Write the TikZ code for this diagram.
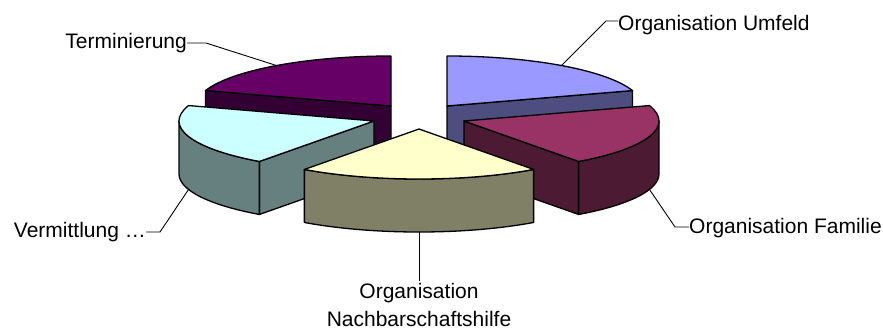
\documentclass[tikz,border=0pt]{standalone}
\usepackage{fontspec}
\setmainfont{Liberation Sans}
\usepackage{tikz}
\newcommand{\rx}{195}
\newcommand{\ry}{50}
\newcommand{\hh}{53}
\definecolor{termtop}{HTML}{660066}
\definecolor{termside}{HTML}{330033}
\definecolor{umftop}{HTML}{9999FF}
\definecolor{umfside}{HTML}{4D4D80}
\definecolor{vmtop}{HTML}{CCFFFF}
\definecolor{vmside}{HTML}{668080}
\definecolor{famtop}{HTML}{993366}
\definecolor{famside}{HTML}{4D1A33}
\definecolor{nbtop}{HTML}{FFFFCC}
\definecolor{nbside}{HTML}{808066}
\begin{document}
\begin{tikzpicture}[x=1pt,y=1pt,
    face/.style={draw=black,line width=1.3pt,line join=round},
    leader/.style={draw=black,line width=0.9pt},
    lbl/.style={inner sep=0pt,font=\fontsize{21}{28}\selectfont}]
    \useasboundingbox (0,0) rectangle (883,-333);
    \coordinate (apexT) at (391,-106);
    \coordinate (apexU) at (447,-106);
    \coordinate (apexV) at (374,-121);
    \coordinate (apexF) at (464,-121);
    \coordinate (apexN) at (419,-129);
    \begin{scope}[shift={(apexT)}]
    	\filldraw[face,fill=termside] (0,0) -- ({\rx*cos(162)},{\ry*sin(162)}) -- ++(0,-\hh) -- (0,-\hh) -- cycle;
    	\filldraw[face,fill=termtop] (0,0) -- (0,\ry) arc[start angle=90,end angle=162,x radius=\rx,y radius=\ry] -- cycle;
    \end{scope}
    \begin{scope}[shift={(apexU)}]
    	\filldraw[face,fill=umfside] (0,0) -- ({\rx*cos(18)},{\ry*sin(18)}) -- ++(0,-\hh) -- (0,-\hh) -- cycle;
    	\filldraw[face,fill=umftop] (0,0) -- ({\rx*cos(18)},{\ry*sin(18)}) arc[start angle=18,end angle=90,x radius=\rx,y radius=\ry] -- cycle;
    \end{scope}
    \begin{scope}[shift={(apexV)}]
    	\filldraw[face,fill=vmside] (0,0) -- ({\rx*cos(234)},{\ry*sin(234)}) -- ++(0,-\hh) -- (0,-\hh) -- cycle;
    	\filldraw[face,fill=vmside] (-\rx,0) arc[start angle=180,end angle=234,x radius=\rx,y radius=\ry] -- ++(0,-\hh)
    	    arc[start angle=234,end angle=180,x radius=\rx,y radius=\ry] -- cycle;
    	\filldraw[face,fill=vmtop] (0,0) -- ({\rx*cos(162)},{\ry*sin(162)}) arc[start angle=162,end angle=234,x radius=\rx,y radius=\ry] -- cycle;
    \end{scope}
    \begin{scope}[shift={(apexF)}]
    	\filldraw[face,fill=famside] (0,0) -- ({\rx*cos(306)},{\ry*sin(306)}) -- ++(0,-\hh) -- (0,-\hh) -- cycle;
    	\filldraw[face,fill=famside] ({\rx*cos(306)},{\ry*sin(306)}) arc[start angle=306,end angle=360,x radius=\rx,y radius=\ry] -- ++(0,-\hh)
    	    arc[start angle=360,end angle=306,x radius=\rx,y radius=\ry] -- cycle;
    	\filldraw[face,fill=famtop] (0,0) -- ({\rx*cos(306)},{\ry*sin(306)}) arc[start angle=306,end angle=378,x radius=\rx,y radius=\ry] -- cycle;
    \end{scope}
    \begin{scope}[shift={(apexN)}]
    	\filldraw[face,fill=nbside] ({\rx*cos(234)},{\ry*sin(234)}) arc[start angle=234,end angle=306,x radius=\rx,y radius=\ry] -- ++(0,-\hh)
    	    arc[start angle=306,end angle=234,x radius=\rx,y radius=\ry] -- cycle;
    	\filldraw[face,fill=nbtop] (0,0) -- ({\rx*cos(234)},{\ry*sin(234)}) arc[start angle=234,end angle=306,x radius=\rx,y radius=\ry] -- cycle;
    \end{scope}
    \node[lbl,anchor=base west] (lblUmf) at (618,-30) {Organisation Umfeld};
    \coordinate (knUmf) at (606,-21);
    \coordinate (ptUmf) at (447+114.6,-106+40.5);
    \draw[leader] (ptUmf) -- (knUmf) -- (knUmf -| lblUmf.west);
    \node[lbl,anchor=base east] (lblTerm) at (187,-48) {Terminierung};
    \coordinate (knTerm) at (206,-43);
    \coordinate (ptTerm) at (391-114.6,-106+40.5);
    \draw[leader] (ptTerm) -- (knTerm) -- (knTerm -| lblTerm.east);
    \node[lbl,anchor=base east] (lblVm) at (146,-237) {Vermittlung …};
    \coordinate (knVm) at (160,-232);
    \coordinate (ptVm) at (374-185.5,-121-15.5-53);
    \draw[leader] (ptVm) -- (knVm) -- (knVm -| lblVm.east);
    \node[lbl,anchor=base west] (lblFam) at (689,-233) {Organisation Familie};
    \coordinate (knFam) at (675,-227);
    \coordinate (ptFam) at (464+185.5,-121-15.5-53);
    \draw[leader] (ptFam) -- (knFam) -- (knFam -| lblFam.west);
    \node[lbl,anchor=north,align=center] (lblNb) at (419,-283) {Organisation\\Nachbarschaftshilfe};
    \coordinate (ptNb) at (419,-129-50-53);
    \draw[leader] (ptNb) -- ([yshift=2pt]lblNb.north);
\end{tikzpicture}
\end{document}
